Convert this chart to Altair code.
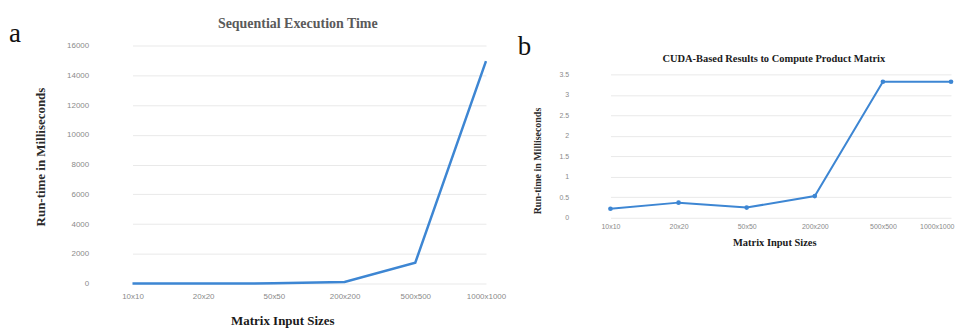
import altair as alt
import pandas as pd

# ---- data ----
sizes = ["10x10", "20x20", "50x50", "200x200", "500x500", "1000x1000"]
seq_ms = [0, 1, 10, 100, 1400, 14950]
cuda_ms = [0.22, 0.37, 0.25, 0.53, 3.32, 3.32]
seq_ticks = [0, 2000, 4000, 6000, 8000, 10000, 12000, 14000, 16000]
cuda_ticks = [0, 0.5, 1, 1.5, 2, 2.5, 3, 3.5]

title_a = "Sequential Execution Time"
title_b = "CUDA-Based Results to Compute Product Matrix"
y_title = "Run-time in Milliseconds"
x_title = "Matrix Input Sizes"
panel_a = "a"
panel_b = "b"

df_a = pd.DataFrame({"size": sizes, "ms": seq_ms})
df_b = pd.DataFrame({"size": sizes, "ms": cuda_ms})

SERIF = "Liberation Serif"
SANS = "Liberation Sans"
BLUE = "#3d86d3"
GRID = "#e9e9e9"
LBL = "#8a8a8a"


def txt(s, x, y, size, color="#222222", bold=True, angle=0, align="center",
        baseline="middle"):
    kw = dict(font=SERIF, fontSize=size, color=color, align=align,
              baseline=baseline, fontWeight="bold" if bold else "normal")
    if angle:
        kw["angle"] = angle
    return alt.Chart(pd.DataFrame({"t": [s]})).mark_text(**kw).encode(
        text="t:N", x=alt.value(x), y=alt.value(y))


def anchor(x, y):
    return alt.Chart(pd.DataFrame({"t": [0]})).mark_rule(
        color="white", strokeWidth=0.5).encode(
        x=alt.value(x), x2=alt.value(x + 0.5), y=alt.value(y), y2=alt.value(y + 0.5))


# ---- panel a ----
WA, HA = 398, 239
xa = alt.X("size:N", sort=sizes,
           scale=alt.Scale(type="point", domain=sizes, range=[35, 390], padding=0),
           axis=alt.Axis(title=None, domain=False, ticks=False, tickSize=0, grid=False,
                         labelFont=SANS, labelFontSize=8, labelColor=LBL,
                         labelPadding=9, labelAngle=0))
ya = alt.Y("ms:Q", scale=alt.Scale(domain=[0, 16000], nice=False, zero=True),
           axis=alt.Axis(title=None, values=seq_ticks, format="d", domain=False,
                         ticks=False, tickSize=0, grid=True, gridColor=GRID,
                         labelFont=SANS, labelFontSize=8, labelColor=LBL,
                         labelPadding=9))
line_a = alt.Chart(df_a).mark_line(color=BLUE, strokeWidth=2.5).encode(x=xa, y=ya)

chart_a = alt.layer(
    line_a,
    txt(panel_a, -89, -4, 27, color="#111111", bold=False, align="left",
        baseline="alphabetic"),
    txt(title_a, 201, -22, 14, color="#5a5a5a"),
    txt(y_title, -57, 112, 13, color="#2a2a2a", angle=270),
    txt(x_title, 186, 277, 13, color="#1a1a1a"),
    anchor(-89, -36),
    anchor(413, 0),
).properties(width=WA, height=HA)

# ---- panel b (plot area drawn in the upper part of a same-height cell) ----
WB, HB = 378, 239
B_BOTTOM, B_TOP = 173, 29
last_test = f"datum.value === '{sizes[-1]}'"
xb = alt.X("size:N", sort=sizes,
           scale=alt.Scale(type="point", domain=sizes, range=[33, 375], padding=0),
           axis=alt.Axis(title=None, domain=False, ticks=False, tickSize=0, grid=False,
                         labelFont=SANS, labelFontSize=7, labelColor=LBL,
                         labelPadding=5, labelAngle=0, offset=B_BOTTOM - HB,
                         labelAlign={"condition": {"test": last_test, "value": "right"},
                                     "value": "center"},
                         labelOffset={"condition": {"test": last_test, "value": 3},
                                      "value": 0}))
yb = alt.Y("ms:Q", scale=alt.Scale(domain=[0, 3.5], nice=False, zero=True,
                                   range=[B_BOTTOM, B_TOP]),
           axis=alt.Axis(title=None, values=cuda_ticks, format="~g", domain=False,
                         ticks=False, tickSize=0, grid=True, gridColor=GRID,
                         labelFont=SANS, labelFontSize=7, labelColor=LBL,
                         labelPadding=9))
line_b = alt.Chart(df_b).mark_line(
    color=BLUE, strokeWidth=2,
    point=alt.OverlayMarkDef(filled=True, size=22, color=BLUE)).encode(x=xb, y=yb)

chart_b = alt.layer(
    line_b,
    txt(panel_b, -60, 10, 27, color="#111111", bold=False, align="left",
        baseline="alphabetic"),
    txt(title_b, 197, 14, 10.5, color="#1a1a1a"),
    txt(y_title, -40, 116, 10, color="#2a2a2a", angle=270),
    txt(x_title, 198, 198, 10.5, color="#1a1a1a"),
    anchor(-62, -36),
).properties(width=WB, height=HB)

chart = alt.hconcat(chart_a, chart_b, spacing=5).properties(
    padding=0
).configure_view(stroke=None)

chart.save("out.html", embed_options={"renderer": "svg", "actions": False})
